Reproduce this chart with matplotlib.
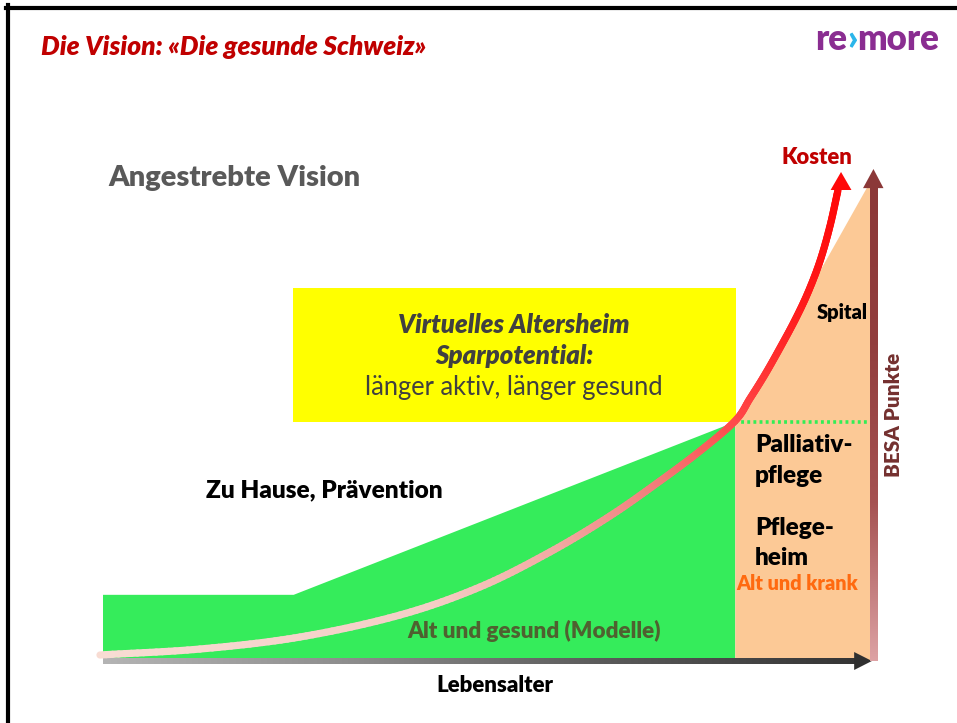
import numpy as np
import matplotlib
matplotlib.use('Agg')
import matplotlib.pyplot as plt
import matplotlib.transforms as mtransforms
from matplotlib.collections import LineCollection
from matplotlib.colors import LinearSegmentedColormap
from matplotlib.patches import Polygon
from matplotlib.offsetbox import TextArea, HPacker, AnnotationBbox
from matplotlib.lines import Line2D

plt.rcParams['font.family'] = ['Lato', 'DejaVu Sans']

# ---------------- data (schematic units: age 0-100, level 0-100) ----------------
healthy_band = 13.3          # "Alt und gesund" band
prevention_start = 24.7      # prevention wedge starts
care_start_age = 81.9        # start of care (Pflegeheim / Palliativ)
care_start_level = 48.6
hospital_top_age = 99.0
hospital_top_level = 96.5
axis_max = 100.0
vision_box_top = 75.9

cost_age = [-0.39, 12.56, 25.52, 38.47, 48.83, 57.90, 65.67, 72.15, 77.33, 81.87,
            83.81, 85.75, 87.69, 89.64, 91.32, 92.88, 94.17, 95.21]
cost_level = [1.02, 2.24, 4.69, 9.18, 14.90, 22.04, 29.39, 36.53, 42.65, 48.78,
              53.37, 58.27, 63.67, 69.39, 75.00, 81.43, 88.57, 95.92]
cost_tip = (95.6, 99.6)

# ---------------- figure ----------------
W, H = 957, 723
fig = plt.figure(figsize=(W / 100, H / 100), dpi=100)
ax = fig.add_axes([0, 0, 1, 1])
ox, oy, sx, sy = 103, 660, 7.72, 4.9   # pixel origin and scale of schematic axes
xlim = ((0 - ox) / sx, (W - ox) / sx)
ylim = ((oy - H) / sy, (oy - 0) / sy)
ax.axis('off')

pix = mtransforms.Affine2D().scale(1 / W, -1 / H).translate(0, 1) + fig.transFigure

GREEN = '#35EC5B'
PEACH = '#FCC996'
YELLOW = '#FFFF00'

# green area (zu Hause / alt und gesund)
ax.add_patch(Polygon([(0, 0), (0, healthy_band), (prevention_start, healthy_band),
                      (care_start_age, care_start_level), (care_start_age, 0)],
                     closed=True, fc=GREEN, ec='none', zorder=1))
# peach area (alt und krank / spital)
ax.add_patch(Polygon([(care_start_age, 0), (care_start_age, care_start_level),
                      (hospital_top_age, hospital_top_level), (axis_max, hospital_top_level),
                      (axis_max, 0)],
                     closed=True, fc=PEACH, ec='none', zorder=1))
# yellow vision box
ax.add_patch(Polygon([(prevention_start - 0.1, care_start_level), (prevention_start - 0.1, vision_box_top),
                      (care_start_age + 0.1, vision_box_top), (care_start_age + 0.1, care_start_level)],
                     closed=True, fc=YELLOW, ec='none', zorder=1))

# dotted green line
ax.plot([care_start_age, axis_max - 0.4], [care_start_level, care_start_level], color='#33EE55',
        lw=2.6, linestyle=(0, (0.8, 0.9)), zorder=2)

# x axis arrow (gradient shaft)
grad = np.linspace(0, 1, 256).reshape(1, -1)
cm_x = LinearSegmentedColormap.from_list('gx', ['#B4B4B4', '#8C8C8C', '#5A5A5A', '#353535'])
shaft_end = 97.4
ax.imshow(grad, cmap=cm_x, extent=[0, shaft_end, -0.85, 0.35], aspect='auto', zorder=3,
          interpolation='bilinear')
ax.add_patch(Polygon([(shaft_end - 0.1, 1.63), (shaft_end - 0.1, -2.04), (99.6, -0.2)],
                     closed=True, fc='#303030', ec='none', zorder=3))

# BESA axis arrow (gradient shaft)
gv = np.linspace(0, 1, 256).reshape(-1, 1)
cm_v = LinearSegmentedColormap.from_list('gv', ['#8B3838', '#923E3E', '#A55252', '#DDA2A4'])
ax.imshow(gv, cmap=cm_v, extent=[99.3, 100.3, -0.2, 96.4], aspect='auto', zorder=3,
          interpolation='bilinear', origin='upper')
ax.add_patch(Polygon([(98.45, 96.3), (101.1, 96.3), (99.8, 100.2)],
                     closed=True, fc='#8B3838', ec='none', zorder=3))


# cost curve: smooth (Catmull-Rom) rendering path through the read points
def smooth_path(x, y, n=16):
    P = np.column_stack([np.asarray(x, float) * sx, np.asarray(y, float) * sy])
    P = np.vstack([2 * P[0] - P[1], P, 2 * P[-1] - P[-2]])
    out = []
    t = np.linspace(0, 1, n, endpoint=False)[:, None]
    for i in range(1, len(P) - 2):
        p0, p1, p2, p3 = P[i - 1], P[i], P[i + 1], P[i + 2]
        c = 0.5 * ((2 * p1) + (-p0 + p2) * t + (2 * p0 - 5 * p1 + 4 * p2 - p3) * t ** 2
                   + (-p0 + 3 * p1 - 3 * p2 + p3) * t ** 3)
        out.append(c)
    out.append(P[-2][None, :])
    out = np.vstack(out)
    return out[:, 0] / sx, out[:, 1] / sy


px_, py_ = smooth_path(cost_age, cost_level)
pts = np.column_stack([px_, py_]).reshape(-1, 1, 2)
segments = np.concatenate([pts[:-1], pts[1:]], axis=1)
cm_c = LinearSegmentedColormap.from_list('gc', [(0.0, '#F8DCD3'), (0.45, '#F4CEC6'),
                                                (0.62, '#F2A9A2'), (0.76, '#F27A78'),
                                                (0.86, '#FF4A4A'), (0.93, '#FF2525'),
                                                (1.0, '#FF0808')])
tpar = (px_[:-1] + px_[1:]) / 2 / cost_tip[0]
lc = LineCollection(segments, colors=cm_c(np.clip(tpar, 0, 1)), linewidths=5.2,
                    capstyle='round', joinstyle='round', zorder=4)
ax.add_collection(lc)
ax.add_patch(Polygon([(cost_tip[0] - 1.35, cost_level[-1]), (cost_tip[0] + 1.35, cost_level[-1]),
                      cost_tip], closed=True, fc='#FF0808', ec='none', zorder=4))

ax.set_xlim(*xlim)
ax.set_ylim(*ylim)

# ---------------- texts ----------------
def T(x, y, s, **kw):
    kw.setdefault('va', 'center')
    return ax.text(x, y, s, transform=pix, **kw)

BOLD = 'heavy'
T(41, 47, 'Die Vision: «Die gesunde Schweiz»', fontsize=19, fontweight=BOLD, style='italic',
  color='#C00000', ha='left')
T(108, 178, 'Angestrebte Vision', fontsize=21, fontweight=BOLD, color='#595959', ha='left')
T(514, 325, 'Virtuelles Altersheim', fontsize=18.5, fontweight=BOLD, style='italic',
  color='#404040', ha='center', zorder=5)
T(514, 356, 'Sparpotential:', fontsize=18.5, fontweight=BOLD, style='italic',
  color='#404040', ha='center', zorder=5)
T(514, 387, 'länger aktiv, länger gesund', fontsize=18.4, color='#404040', ha='center', zorder=5)
T(206, 490, 'Zu Hause, Prävention', fontsize=17.6, fontweight=BOLD, color='black', ha='left')
T(534, 631, 'Alt und gesund (Modelle)', fontsize=16.2, fontweight=BOLD, color='#4F6130',
  ha='center', zorder=5)
T(495, 686, 'Lebensalter', fontsize=16, fontweight=BOLD, color='black', ha='center')
T(817, 158, 'Kosten', fontsize=15.8, fontweight=BOLD, color='#C00000', ha='center')
T(842, 313, 'Spital', fontsize=14.5, fontweight=BOLD, color='black', ha='center', zorder=5)
T(755, 445, 'Palliativ-', fontsize=17.5, fontweight=BOLD, color='black', ha='left', zorder=5)
T(755, 476, 'pflege', fontsize=17.5, fontweight=BOLD, color='black', ha='left', zorder=5)
T(755, 528, 'Pflege-', fontsize=17.5, fontweight=BOLD, color='black', ha='left', zorder=5)
T(755, 558, 'heim', fontsize=17.5, fontweight=BOLD, color='black', ha='left', zorder=5)
T(797, 583, 'Alt und krank', fontsize=14.3, fontweight=BOLD, color='#FF6A10', ha='center', zorder=5)
T(893, 415, 'BESA Punkte', fontsize=14.9, fontweight=BOLD, color='#74302F', ha='center',
  rotation=90)

# logo re>more
logo_kw = dict(fontsize=25, fontweight=BOLD)
parts = [TextArea('re', textprops=dict(color='#8A2D91', **logo_kw)),
         TextArea('›', textprops=dict(color='#2BB5EA', **logo_kw)),
         TextArea('more', textprops=dict(color='#8A2D91', **logo_kw))]
logo = HPacker(children=parts, align='baseline', pad=0, sep=0)
ab = AnnotationBbox(logo, (877, 40), xycoords=pix, frameon=False, box_alignment=(0.5, 0.5))
ax.add_artist(ab)

# slide border (left and top)
fig.add_artist(Line2D([8, 8], [5, H], transform=pix, color='black', lw=3))
fig.add_artist(Line2D([6, W], [8, 8], transform=pix, color='black', lw=3))

fig.savefig('out.png', dpi=100)
